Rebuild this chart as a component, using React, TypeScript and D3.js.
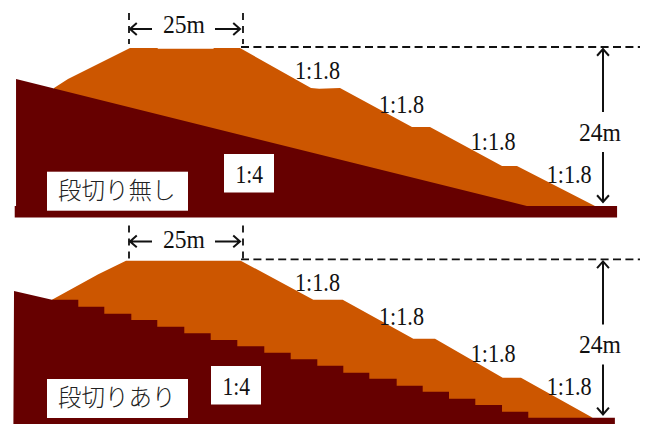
import React from "react";
import * as d3 from "d3";

type P = [number, number];

// All values in metres: [horizontal distance from crest edge, height above toe]
const groundPlain: P[] = [[-25.9, 19.3], [90.2, 0], [110.7, 0], [110.7, -1.75], [-26.2, -1.75], [-26.2, 0], [-25.9, 0]];
const fillPlain: P[] = [[-17.27, 17.93], [-14.09, 19.3], [0, 24], [6.2, 24], [6.4, 23.9], [18.9, 23.9], [19.1, 24], [25, 24], [41.14, 17.93], [43, 17.8], [47.73, 17.93], [64.09, 12], [68.18, 12], [84.55, 6.08], [87.95, 6.08], [105.68, 0], [90.2, -1], [-17.27, 16]];

const stepRiserX = [-11.75, -5.84, 0.3, 6.2, 12.34, 18.34, 24.39, 30.52, 36.52, 42.57, 48.48, 54.39, 60.61, 66.52, 72.5, 78.48, 84.55, 90.52, 110.2];
const stepTreadZ = [18.04, 16.97, 15.9, 14.94, 13.91, 12.9, 11.88, 10.92, 9.94, 8.93, 7.95, 6.88, 5.96, 4.89, 3.98, 2.91, 1.94, 0.92, 0];
const groundStart: P[] = [[-26.36, 19.37], [-17.73, 18.04]];
const groundEnd: P[] = [[110.2, -1.1], [-26.5, -1.1]];
const fillStepped: P[] = [[-17.73, 18.04], [-7.2, 21.93], [-0.91, 24], [25.16, 24], [41.66, 18.04], [48.34, 18.04], [64.39, 12.06], [69.32, 12.06], [84.7, 6.1], [88.86, 6.1], [105.16, 0], [90, -1], [-17.73, 16]];

const slopeLabel = "1:1.8";
const bermLabel = "1:4";
const crestLabel = "25m";
const heightLabel = "24m";
const caseLabels = ["段切り無し", "段切りあり"];

const steppedGround: P[] = [...groundStart];
stepRiserX.forEach((x, i) => {
  steppedGround.push([x, stepTreadZ[i]]);
  if (i < stepTreadZ.length - 1) steppedGround.push([x, stepTreadZ[i + 1]]);
});
steppedGround.push(...groundEnd);

const x = d3.scaleLinear().domain([0, 25]).range([130, 240]);
const yTop = d3.scaleLinear().domain([0, 24]).range([206, 48]);
const yBot = d3.scaleLinear().domain([0, 24]).range([417.7, 260.7]);

const GROUND = "#660000";
const FILL = "#cc5600";
const SERIF = "'Liberation Serif', serif";
const CJK = "'Noto Sans CJK JP', sans-serif";
const INK = "#111";

function Arrow({ x1, y1, x2, y2 }: { x1: number; y1: number; x2: number; y2: number }) {
  const a = Math.atan2(y2 - y1, x2 - x1);
  const h = 9;
  const s = 0.72;
  const d = d3.path();
  d.moveTo(x1, y1);
  d.lineTo(x2, y2);
  d.moveTo(x2 - h * Math.cos(a - s), y2 - h * Math.sin(a - s));
  d.lineTo(x2, y2);
  d.lineTo(x2 - h * Math.cos(a + s), y2 - h * Math.sin(a + s));
  return <path d={d.toString()} fill="none" stroke={INK} strokeWidth={2} />;
}

function Panel({ y, ground, fill, dy, textDy, boxY, label, fourX }: any) {
  const line = d3.line<P>().x((d) => x(d[0])).y((d) => y(d[1]));
  const slopeSpots: P[] = [[295, 79], [379, 112.7], [470.7, 150], [546.7, 182.7]];
  return (
    <g>
      <path d={line(fill) + "Z"} fill={FILL} />
      <path d={line(ground) + "Z"} fill={GROUND} />
      <line x1={241} x2={640} y1={47 + dy} y2={47 + dy} stroke={INK} strokeWidth={1.8} strokeDasharray="8 4.4" />
      <g stroke={INK} strokeWidth={1.8} strokeDasharray="7 6" fill="none">
        <line x1={129} x2={129} y1={13 + dy} y2={44 + textDy} />
        <line x1={243} x2={243} y1={13 + dy} y2={44 + textDy} />
      </g>
      <Arrow x1={152} y1={29 + dy} x2={130} y2={29 + dy} />
      <Arrow x1={215} y1={29 + dy} x2={240} y2={29 + dy} />
      <text x={163} y={33.3 + textDy} fontFamily={SERIF} fontSize={25} textLength={42} lengthAdjust="spacingAndGlyphs" fill={INK}>{crestLabel}</text>
      <Arrow x1={603} y1={112 + dy} x2={603} y2={49 + dy} />
      <Arrow x1={603} y1={152 + dy} x2={603} y2={202 + dy} />
      <text x={579} y={141 + dy} fontFamily={SERIF} fontSize={25} textLength={42} lengthAdjust="spacingAndGlyphs" fill={INK}>{heightLabel}</text>
      {slopeSpots.map(([sx, sy], i) => (
        <text key={i} x={sx} y={sy + dy} fontFamily={SERIF} fontSize={24.5} textLength={45} lengthAdjust="spacingAndGlyphs" fill={INK}>{slopeLabel}</text>
      ))}
      <rect x={fourX} y={boxY.four} width={50} height={38.5} fill="#fff" />
      <text x={fourX + 11.5} y={boxY.four + 28.5} fontFamily={SERIF} fontSize={24.5} textLength={27.5} lengthAdjust="spacingAndGlyphs" fill={INK}>{bermLabel}</text>
      <rect x={47} y={boxY.label} width={141} height={39} fill="#fff" />
      <text x={58} y={boxY.label + 27} fontFamily={CJK} fontWeight={300} fontSize={23.5} fill="#222">{label}</text>
    </g>
  );
}

export default function App() {
  return (
    <svg width={647} height={424} viewBox="0 0 647 424" style={{ position: "absolute", left: 0, top: 0, background: "#fff" }}>
      <Panel y={yTop} ground={groundPlain} fill={fillPlain} dy={0} textDy={0}
        boxY={{ four: 154, label: 171.7 }} label={caseLabels[0]} fourX={224} />
      <Panel y={yBot} ground={steppedGround} fill={fillStepped} dy={212.4} textDy={214.4}
        boxY={{ four: 366, label: 379 }} label={caseLabels[1]} fourX={211} />
    </svg>
  );
}
